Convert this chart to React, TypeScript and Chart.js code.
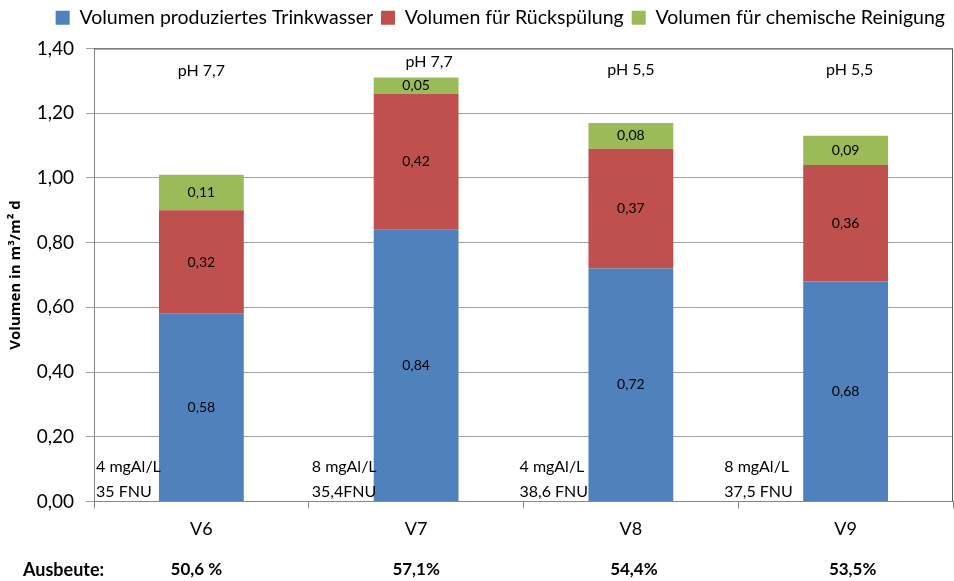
import React, { useEffect, useRef } from "react";
import { Chart, registerables } from "chart.js";

Chart.register(...registerables);

const categories = ["V6", "V7", "V8", "V9"];
const trinkwasser = [0.58, 0.84, 0.72, 0.68];
const rueckspuelung = [0.32, 0.42, 0.37, 0.36];
const chemisch = [0.11, 0.05, 0.08, 0.09];
const phLabels = ["pH 7,7", "pH 7,7", "pH 5,5", "pH 5,5"];
const dosing = ["4 mgAl/L", "8 mgAl/L", "4 mgAl/L", "8 mgAl/L"];
const turbidity = ["35 FNU", "35,4FNU", "38,6 FNU", "37,5 FNU"];
const ausbeute = ["50,6 %", "57,1%", "54,4%", "53,5%"];

const FONT = "Lato, 'Open Sans', sans-serif";
const fmt = (v: number) => v.toFixed(2).replace(".", ",");

// layout offsets for annotations (pixels / values), not data
const phY = [1.33, 1.36, 1.335, 1.335];
const phDx = [0, 13, 0, 4];
const noteDx = [2, 3, -4, -14];
const ausDx = [-5, 0, 3, 7];

const legendSpacer = {
  id: "legendSpacer",
  beforeLayout(chart: any) {
    const lg = chart.legend;
    if (lg && !lg._patched) {
      const orig = lg.fit.bind(lg);
      lg.fit = function () {
        orig();
        this.height += 11;
      };
      lg._patched = true;
    }
  },
};

const annotPlugin = {
  id: "annot",
  afterDatasetsDraw(chart: any) {
    const { ctx, chartArea, scales } = chart;
    const x = scales.x;
    const y = scales.y;
    ctx.save();
    // data labels
    ctx.font = `14px ${FONT}`;
    ctx.fillStyle = "#000";
    ctx.textAlign = "center";
    ctx.textBaseline = "middle";
    chart.data.datasets.forEach((ds: any, di: number) => {
      const meta = chart.getDatasetMeta(di);
      meta.data.forEach((bar: any, i: number) => {
        const p = bar.getProps(["x", "y", "base"], true);
        ctx.fillText(fmt(ds.data[i]), p.x, (p.y + p.base) / 2);
      });
    });
    // pH labels
    ctx.font = `16px ${FONT}`;
    categories.forEach((_, i) => {
      ctx.fillText(phLabels[i], x.getPixelForValue(i) + phDx[i], y.getPixelForValue(phY[i]));
    });
    // dosing notes
    const catW = (chartArea.right - chartArea.left) / categories.length;
    ctx.textAlign = "left";
    categories.forEach((_, i) => {
      const lx = chartArea.left + catW * i + noteDx[i];
      ctx.fillText(dosing[i], lx, chartArea.bottom - 35);
      ctx.fillText(turbidity[i], lx, chartArea.bottom - 10);
    });
    // frame top & right
    ctx.strokeStyle = "#5a5a5a";
    ctx.lineWidth = 1;
    ctx.beginPath();
    ctx.moveTo(chartArea.left, chartArea.top + 0.5);
    ctx.lineTo(chartArea.right - 0.5, chartArea.top + 0.5);
    ctx.lineTo(chartArea.right - 0.5, chartArea.bottom);
    ctx.stroke();
    // Ausbeute row
    ctx.font = `bold 18px ${FONT}`;
    ctx.textAlign = "left";
    const rowY = 570;
    ctx.fillText("Ausbeute:", 23, rowY);
    ctx.font = `bold 17px ${FONT}`;
    ctx.textAlign = "center";
    categories.forEach((_, i) => {
      ctx.fillText(ausbeute[i], x.getPixelForValue(i) + ausDx[i], rowY);
    });
    ctx.restore();
  },
};

export default function App() {
  const ref = useRef<HTMLCanvasElement>(null);
  useEffect(() => {
    document.body.style.margin = "0";
    const chart = new Chart(ref.current!, {
      type: "bar",
      data: {
        labels: categories,
        datasets: [
          { label: "Volumen produziertes Trinkwasser", data: trinkwasser, backgroundColor: "#4F81BD" },
          { label: "Volumen für Rückspülung", data: rueckspuelung, backgroundColor: "#C0504D" },
          { label: "Volumen für chemische Reinigung", data: chemisch, backgroundColor: "#9BBB59" },
        ],
      },
      options: {
        responsive: false,
        animation: false,
        layout: { padding: { left: 0, right: 1, top: 0, bottom: 31 } },
        datasets: { bar: { categoryPercentage: 1, barPercentage: 0.395 } },
        plugins: {
          legend: {
            position: "top",
            align: "end",
            labels: {
              font: { family: FONT, size: 19.5 },
              color: "#000",
              boxWidth: 14,
              boxHeight: 14,
              padding: 8,
            },
          },
          tooltip: { enabled: false },
        },
        scales: {
          x: {
            stacked: true,
            grid: { offset: true, drawOnChartArea: false, tickLength: 7, color: "#868686" },
            border: { color: "#868686" },
            ticks: { font: { family: FONT, size: 18 }, color: "#000", padding: 10 },
          },
          y: {
            stacked: true,
            min: 0,
            max: 1.4,
            afterFit: (s: any) => { s.width = 94; },
            ticks: {
              stepSize: 0.2,
              font: { family: FONT, size: 19 },
              color: "#000",
              padding: 12,
              callback: (v: any) => fmt(Number(v)),
            },
            grid: { color: "#A0A0A0", tickLength: 8 },
            border: { color: "#868686" },
            title: {
              display: true,
              text: "Volumen in m³/m² d",
              font: { family: "'Open Sans', sans-serif", size: 15, weight: "bold" },
              color: "#000",
              padding: { top: 7, bottom: 0 },
            },
          },
        },
      },
      plugins: [legendSpacer, annotPlugin],
    });
    return () => chart.destroy();
  }, []);
  return (
    <div style={{ width: 954, height: 581 }}>
      <canvas ref={ref} width={954} height={581} />
    </div>
  );
}
